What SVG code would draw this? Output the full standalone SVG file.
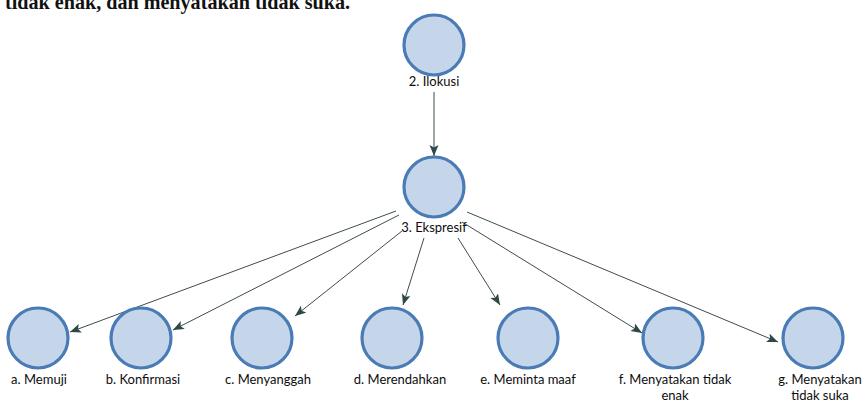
<svg xmlns="http://www.w3.org/2000/svg" width="863" height="402" viewBox="0 0 863 402">
  <style>
    .node { fill: #c5d6eb; stroke: #4a7bb5; stroke-width: 3.2; }
    .label { font-family: Lato, "Liberation Sans", Arial, sans-serif; font-size: 13px; fill: #0d0d0d; text-anchor: middle; }
    .edge { stroke: #3d4d4d; stroke-width: 1; fill: none; marker-end: url(#arrow); }
    .heading { font-family: "Liberation Serif", "Times New Roman", serif; font-size: 22px; font-weight: bold; fill: #111111; }
  </style>
  <defs>
    <marker id="arrow" markerUnits="userSpaceOnUse" markerWidth="12" markerHeight="10" refX="11" refY="4.5" orient="auto">
      <path d="M0,0 L11,4.5 L0,9 L2.5,4.5 z" fill="#2e4747"/>
    </marker>
  </defs>
  <rect width="863" height="402" fill="#ffffff"/>

  <!-- text line above the figure, partly past the top edge -->
  <text class="heading" x="5" y="9" textLength="345" lengthAdjust="spacingAndGlyphs">tidak enak, dan menyatakan tidak suka.</text>

  <!-- connectors -->
  <g id="edges">
    <line class="edge" x1="434" y1="92" x2="434" y2="156"/>
    <line class="edge" x1="396" y1="211" x2="70" y2="332"/>
    <line class="edge" x1="399" y1="215" x2="173" y2="330"/>
    <line class="edge" x1="402" y1="231" x2="295" y2="316"/>
    <line class="edge" x1="424" y1="238" x2="403" y2="305"/>
    <line class="edge" x1="458" y1="238" x2="500" y2="305"/>
    <line class="edge" x1="462" y1="222" x2="642" y2="333"/>
    <line class="edge" x1="467" y1="212" x2="778" y2="342"/>
  </g>

  <!-- nodes -->
  <g id="ilokusi">
    <circle class="node" cx="434" cy="45" r="30"/>
    <text class="label" x="434" y="86">2. Ilokusi</text>
  </g>
  <g id="ekspresif">
    <circle class="node" cx="434" cy="187" r="30"/>
    <text class="label" x="434" y="232">3. Ekspresif</text>
  </g>
  <g id="memuji">
    <circle class="node" cx="38" cy="338" r="30"/>
    <text class="label" x="39" y="384">a. Memuji</text>
  </g>
  <g id="konfirmasi">
    <circle class="node" cx="141" cy="338" r="30"/>
    <text class="label" x="143" y="384">b. Konfirmasi</text>
  </g>
  <g id="menyanggah">
    <circle class="node" cx="262" cy="338" r="30"/>
    <text class="label" x="268" y="384">c. Menyanggah</text>
  </g>
  <g id="merendahkan">
    <circle class="node" cx="392" cy="338" r="30"/>
    <text class="label" x="400" y="384">d. Merendahkan</text>
  </g>
  <g id="meminta-maaf">
    <circle class="node" cx="528" cy="338" r="30"/>
    <text class="label" x="528" y="384">e. Meminta maaf</text>
  </g>
  <g id="tidak-enak">
    <circle class="node" cx="673" cy="338" r="30"/>
    <text class="label" x="675" y="384">f. Menyatakan tidak</text>
    <text class="label" x="675" y="400">enak</text>
  </g>
  <g id="tidak-suka">
    <circle class="node" cx="813" cy="338" r="30"/>
    <text class="label" x="820" y="384">g. Menyatakan</text>
    <text class="label" x="820" y="400">tidak suka</text>
  </g>
</svg>
